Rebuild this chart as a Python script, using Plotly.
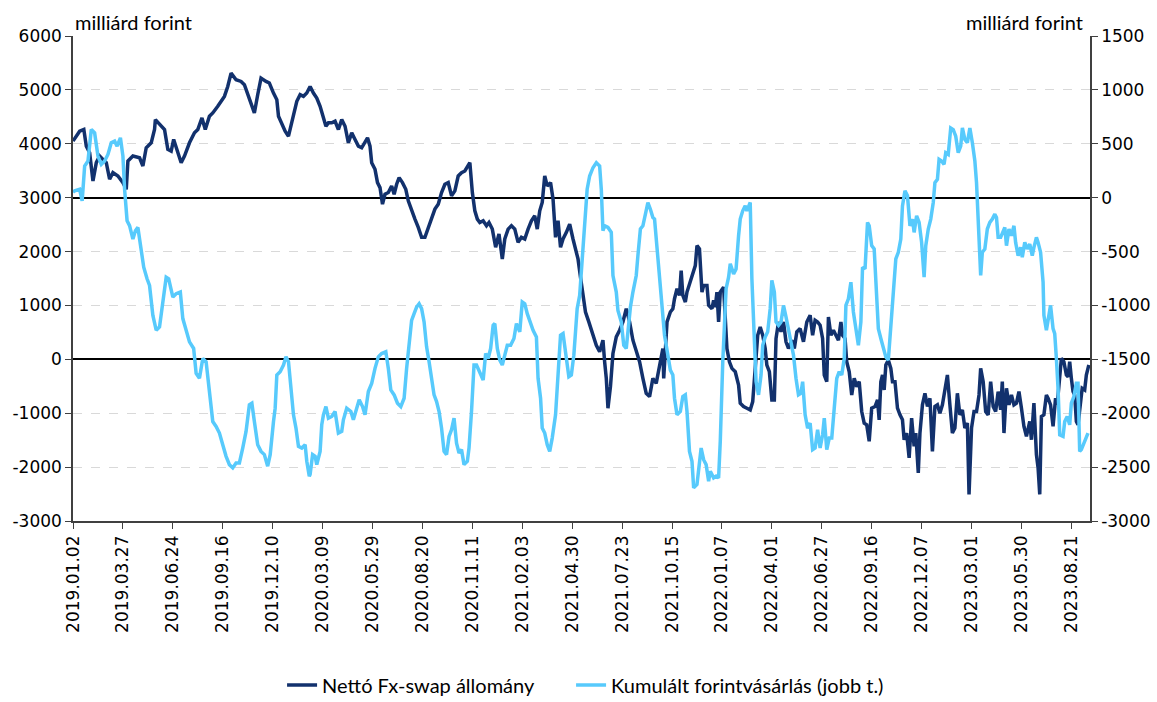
import plotly.graph_objects as go

# x tick labels (every 60th trading day)
tick_labels = ["2019.01.02", "2019.03.27", "2019.06.24", "2019.09.16", "2019.12.10",
               "2020.03.09", "2020.05.29", "2020.08.20", "2020.11.11", "2021.02.03",
               "2021.04.30", "2021.07.23", "2021.10.15", "2022.01.07", "2022.04.01",
               "2022.06.27", "2022.09.16", "2022.12.07", "2023.03.01", "2023.05.30",
               "2023.08.21"]
tick_days = [60 * i for i in range(len(tick_labels))]
left_ticks = [-3000, -2000, -1000, 0, 1000, 2000, 3000, 4000, 5000, 6000]
right_ticks = [-3000, -2500, -2000, -1500, -1000, -500, 0, 500, 1000, 1500]

# Nettó Fx-swap állomány (left axis, milliárd forint); x = trading-day number
fx_day = [0, 3, 8, 13, 16, 20, 24, 28, 32, 36, 40, 44, 48, 54, 60, 64, 66, 72, 80, 84,
          88, 94, 98, 99, 106, 110, 114, 118, 121, 126, 130, 134, 140, 146, 150, 155, 159,
          164, 168, 174, 182, 186, 190, 196, 202, 206, 212, 218, 222, 226, 232, 236,
          241, 245, 247, 251, 255, 259, 263, 265, 269, 273, 277, 281, 285, 289, 293, 297,
          301, 304, 307, 311, 315, 319, 323, 327, 331, 335, 339, 343, 347, 351, 354, 357,
          359, 363, 366, 369, 372, 375, 379, 383, 386, 389, 392, 396, 400, 403, 407, 411,
          415, 419, 423, 427, 431, 435, 439, 443, 447, 451, 455, 459, 463, 467, 471, 475,
          477, 480, 483, 486, 489, 493, 497, 500, 504, 508, 512, 516, 519, 523, 527, 531,
          535, 539, 543, 547, 551, 555, 558, 561, 564, 567, 570, 574, 577, 580, 583, 586,
          589, 593, 597, 601, 604, 607, 610, 613, 616, 620, 625, 629, 633, 637, 639, 641,
          643, 646, 649, 653, 657, 661, 665, 669, 673, 677, 681, 685, 689, 693, 697, 701,
          705, 709, 710, 714, 718,
          721, 723, 726, 729, 731, 733, 736, 738, 742, 745, 748, 750, 753, 756, 758, 762,
          764, 768, 770, 772, 774, 776, 778, 782, 784, 786, 789, 792, 796, 800, 802, 806,
          810, 814, 817, 820, 823, 826, 829, 832, 834, 837, 840, 843, 845, 848, 851, 854,
          857, 860, 864, 867, 870, 874, 878, 882, 886, 889, 892, 895, 898, 901, 903, 906,
          908, 911, 914, 917, 920, 923, 925, 928, 930, 933, 936, 939, 942, 945, 948, 951,
          954, 957,
          960, 964, 967, 969, 971, 973, 975, 977, 980, 983, 985, 988, 991, 994, 997, 999,
          1002, 1005, 1008, 1011, 1013, 1016, 1018, 1021, 1024, 1027, 1030, 1033, 1036,
          1039, 1042, 1045, 1048, 1051, 1054, 1057, 1060, 1063, 1066, 1069, 1072, 1075,
          1077, 1080, 1083, 1086, 1089, 1091, 1094, 1097, 1100, 1103, 1106, 1109, 1112,
          1115, 1117, 1119, 1122, 1125, 1128, 1131, 1134, 1137, 1140, 1143, 1146, 1150,
          1152, 1155, 1158, 1160, 1162, 1164, 1167, 1170, 1172, 1175, 1178, 1181, 1183,
          1186, 1188, 1191, 1194, 1196, 1198, 1200, 1202, 1204, 1206, 1208, 1210, 1213,
          1216, 1218, 1221]
fx_val = [4050, 4110, 4234, 4264, 3956, 3833, 3310, 3650, 3772, 3710, 3649, 3342, 3465,
          3402, 3279, 3155, 3679, 3772, 3740, 3587, 3926, 4018, 4264, 4449, 4326, 4264,
          3895, 3864, 4080, 3833, 3649, 3772, 4018, 4203, 4264, 4480, 4264, 4510, 4572,
          4695, 4880, 5064, 5311, 5188, 5157, 5095, 4818, 4572, 4910, 5218, 5157, 5127,
          4941, 4818, 4510, 4357, 4234, 4141, 4388, 4480, 4788, 4911, 4880, 4941, 5064,
          4941, 4849, 4695, 4510, 4326, 4388, 4388, 4418, 4264, 4449, 4326, 4018, 4203,
          4080, 3956, 3926, 4018, 4110, 3956, 3649, 3526, 3279, 3187, 2879, 3064, 3095,
          3218, 3064, 3249, 3372, 3279, 3156, 2941, 2756, 2602, 2448, 2264, 2264, 2448,
          2633, 2787, 2879, 3095, 3249, 3279, 3033, 3126, 3402, 3464, 3495, 3618,
          3649, 3095, 2756, 2602, 2540, 2571, 2479, 2540, 2417, 2079, 2325, 1863, 2233,
          2417, 2479, 2417, 2171, 2264, 2233, 2417, 2571, 2663, 2417, 2756, 2910, 3402,
          3218, 3279, 2971, 2264, 2571, 2079, 2233, 2356, 2510, 2233, 2048, 1863, 1525,
          1186, 878, 694, 478, 262, 140, 355, -45, -353, -907, -507, 108, 417, 540, 694,
          940, 694, 355, 170, -45, -353, -630, -691, -353, -445, -106, 201, -353, 694, 878,
          940, 1125, 1309, 1186, 1648, 1186, 1063, 1248, 1433, 1617, 1740, 2110, 2048,
          1248, 1371, 1371, 1002, 940, 1094, 971, 1248, 694, 1248, 1340, 632, 201, -45,
          -168, -230, -476, -815, -876, -907, -938, -784, -168, 447, 601, 447, 201, -106,
          -230, -753, -753, 386, 694, 509, 694, 325, 201, 355, 201, 509, 571, 325, 694,
          817, 447, 725, 694, 632, 386, -291, -414, 786, 447, 540, 447, 355, 694, 447,
          386, -45, -230, -661, -353, -507, -414, -968, -1184, -1215, -1522,
          -907, -876, -753, -1122, -414, -291, -568, -106, -14, -168, -414, -414, -907,
          -1030, -1122, -1492, -1368, -1830, -1091, -1615, -1368, -2107, -1368, -845,
          -630, -876, -722, -1707, -876, -845, -999, -845, -599, -291, -845, -1368, -1276,
          -630, -1030, -938, -1276, -1184, -2507, -1276, -968, -968, -661, -168, -414,
          -968, -1030, -414, -876, -968, -599, -938, -414, -1368, -537, -845, -661, -845,
          -814, -599, -907, -1245, -1430, -1153, -1492, -814, -1768, -2015, -2507, -1061,
          -1030, -661, -722, -845, -1245, -722, -845, -414, 17, -45, -291, -322, -45,
          -353, -599, -661, -1153, -1215, -907, -537, -568, -291, -106]

# Kumulált forintvásárlás (right axis, milliárd forint)
buy_day = [0, 2, 8, 11, 14, 18, 22, 26, 30, 34, 38, 42, 46, 50, 53, 57, 60, 62, 65, 68,
           72, 75, 78, 82, 85, 89, 92, 96, 100, 104, 108, 112, 115, 120, 124, 129, 132,
           136, 140, 145, 148, 152, 156, 160, 164, 168, 172, 176, 180, 184, 188, 192, 196,
           200, 204, 208, 212, 215, 218, 222, 226, 230, 234,
           237, 241, 243, 245, 249, 253, 256, 259, 261, 265, 268, 271, 275, 279, 281, 284,
           285, 288, 291, 293, 297, 299, 301, 304, 307, 311, 315, 319, 323, 325, 329, 334,
           337, 340, 344, 348, 351, 355, 359, 363, 367, 371, 376, 379, 382, 386, 390, 394,
           398, 401, 404, 407, 410, 413, 416, 419, 422, 425, 428, 431, 434, 437, 440, 443,
           446, 449, 452, 455, 458, 461, 464, 467, 470, 474, 476,
           479, 482, 485, 489, 493, 496, 499, 502, 505, 507, 510, 513, 516, 519, 522, 526,
           530, 533, 537, 540, 543, 546, 549, 553, 557, 559, 562, 564, 567, 570, 573, 576,
           580, 583, 586, 589, 593, 596, 599, 602, 604, 606, 609, 612, 615, 618, 621, 625,
           629, 633, 635, 637, 639, 643, 647, 649, 653, 655, 659, 662, 665, 667, 670, 673,
           677, 679, 682, 685, 689, 691, 694, 697, 699, 702, 705, 709, 711, 715,
           718, 721, 723, 726, 730, 733, 736, 738, 741, 744, 746, 750, 753, 755, 758, 761,
           764, 766, 770, 773, 776, 778, 781, 783, 785, 788, 790, 794, 797, 800, 802, 805,
           808, 810, 814, 816, 819, 821, 824, 827, 829, 832, 835, 838, 840, 843, 845, 848,
           851, 854, 857, 860, 863, 866, 869, 872, 875, 877, 880, 883, 886, 889, 892, 895,
           898, 901, 903, 906, 909, 912, 915, 918, 921, 924, 927, 929, 932, 935, 938, 941,
           944, 947, 949, 952, 955, 957,
           960, 963, 965, 968, 971, 974, 977, 980, 983, 986, 989, 992, 995, 997, 1000, 1003,
           1006, 1009, 1011, 1014, 1017, 1020, 1023, 1025, 1028, 1031, 1034, 1036, 1039,
           1041, 1044, 1047, 1049, 1052, 1055, 1058, 1061, 1064, 1067, 1069, 1072, 1075,
           1078, 1081, 1084, 1086, 1088, 1091, 1093, 1096, 1099, 1102, 1105, 1108, 1110,
           1112, 1115, 1117, 1120, 1122, 1125, 1128, 1131, 1133, 1136, 1139, 1141, 1144,
           1147, 1150, 1153, 1155, 1158, 1160, 1163, 1166, 1167, 1170, 1172, 1175, 1178,
           1180, 1182, 1184, 1186, 1190, 1192, 1195, 1198, 1200, 1203, 1206, 1208, 1210,
           1212, 1215, 1218, 1220]
buy_val = [50, 63, 78, -30, 293, 340, 632, 601, 386, 309, 340, 401, 509, 524, 478, 555,
           386, 78, -214, -260, -384, -307, -276, -476, -645, -753, -815, -1092, -1230,
           -1199, -968, -738, -753, -922, -891, -876, -1122, -1230, -1338, -1399, -1630,
           -1676, -1492, -1522, -1799, -2077, -2123, -2184, -2292, -2400, -2477, -2507,
           -2461, -2461, -2323, -2169, -1922, -1907, -2077, -2292, -2354, -2384, -2492,
           -2384, -2077, -1953, -1646, -1615, -1553, -1477, -1522, -1692, -2015, -2138,
           -2307, -2323, -2292, -2446, -2584, -2569, -2384, -2400, -2477, -2354, -2107,
           -2015, -1938, -2046, -2030, -1984, -2184, -2169, -2061, -1953, -1984, -2061,
           -1984, -1876, -1938, -2015, -1799, -1723, -1584, -1477, -1446, -1430, -1584,
           -1784, -1830, -1907, -1938, -1861, -1584, -1323, -1138, -1076, -1015, -984,
           -1030, -1153, -1384, -1522, -1707, -1830, -1892, -1984, -2138, -2354, -2384,
           -2215, -2153, -2046, -2277, -2369, -2338, -2477, -2446, -2323,
           -1984, -1553, -1553, -1615, -1692, -1446, -1492, -1399, -1184, -1168, -1399,
           -1507, -1553, -1461, -1369, -1369, -1307, -1168, -1245, -968, -984, -1076,
           -1153, -1230, -1292, -1676, -1861, -2138, -2184, -2292, -2354, -2231, -2015,
           -1584, -1276, -1261, -1477, -1661, -1646, -1461, -1245, -1030, -907, -538,
           -199, 78, 201, 278, 324, 293, 78, -307, -261, -276, -322, -722, -876, -1046,
           -1153, -1369, -1399, -1230, -1015, -876, -722, -538, -291, -261, -138, -45,
           -107, -184, -199, -476, -784, -1061, -1276, -1461,
           -1600, -1646, -1861, -2015, -1984, -1846, -1830, -1984, -2354, -2446, -2692,
           -2661, -2446, -2323, -2431, -2477, -2630, -2538, -2600, -2584, -2600, -2261,
           -1522, -1215, -845, -738, -614, -707, -661, -353, -199, -122, -76, -122, -45,
           -753, -1461, -1707, -1830, -1646, -1369, -1292, -1245, -1030, -768, -876,
           -1153, -1184, -1153, -1000, -1107, -1215, -1323, -1461, -1676, -1830, -1815,
           -1707, -2015, -2138, -2092, -2338, -2323, -2153, -2323, -2200, -2046, -2338,
           -2231, -2231, -1953, -1676, -1615, -1646, -1492, -1000, -938, -784, -1061,
           -1215, -1369, -1153, -645, -661, -230, -261,
           -445, -476, -784, -1215, -1307, -1384, -1477, -1507, -1153, -815, -568, -507,
           -384, -76, 63, 17, -261, -199, -322, -168, -230, -415, -738, -445, -291, -199,
           -45, 140, 170, 355, 340, 309, 417, 401, 647, 632, 570, 417, 478, 647, 540, 509,
           647, 509, 340, 140, -291, -722, -507, -476, -291, -230, -199, -153, -184, -368,
           -368, -322, -276, -445, -291, -353, -261, -415, -538, -461, -553, -415, -476,
           -430, -538, -461, -368, -415, -507, -784, -1092, -1230, -1122, -999, -1215,
           -1261, -1492, -1769, -2200, -2215, -2077, -2030, -2107, -1907, -1846, -1723,
           -1723, -2354, -2338, -2277, -2215, -2184]

DARK = "#12316D"
LIGHT = "#57CAFC"
AXIS = "#404040"
TICK_FONT = dict(family="DejaVu Sans", size=17, color="#000000")
TEXT_FONT = dict(family="Lato", size=20, color="#000000")

fig = go.Figure()
fig.add_trace(go.Scatter(x=fx_day, y=fx_val, mode="lines", name="Nettó Fx-swap állomány",
                         line=dict(color=DARK, width=3.5), yaxis="y", legendwidth=244))
fig.add_trace(go.Scatter(x=buy_day, y=buy_val, mode="lines",
                         name="Kumulált forintvásárlás (jobb t.)",
                         line=dict(color=LIGHT, width=3.5), yaxis="y2"))

fig.update_layout(
    width=1157, height=702,
    margin=dict(l=73, r=67, t=36, b=181, autoexpand=False),
    paper_bgcolor="white", plot_bgcolor="white",
    showlegend=True,
    legend=dict(orientation="h", x=0.504, xanchor="center", y=-0.338, yanchor="middle",
                font=TEXT_FONT, traceorder="normal", itemwidth=30,
                bgcolor="rgba(0,0,0,0)"),
    xaxis=dict(range=[0, 1222.4], tickmode="array", tickvals=tick_days, ticktext=tick_labels,
               tickangle=-90, tickfont=TICK_FONT, ticks="outside", ticklen=6,
               tickcolor=AXIS, showline=True, linecolor=AXIS, linewidth=1.5,
               showgrid=False, zeroline=False, automargin=False),
    yaxis=dict(range=[-3000, 6000], tickmode="array", tickvals=left_ticks,
               ticktext=[str(v) for v in left_ticks], tickfont=TICK_FONT, ticks="outside",
               ticklen=6, tickcolor=AXIS, showline=True, linecolor=AXIS,
               linewidth=1.5, showgrid=True, gridcolor="#d9d9d9", griddash="dash",
               gridwidth=1, zeroline=True, zerolinecolor="#000000", zerolinewidth=1.5,
               automargin=False),
    yaxis2=dict(range=[-3000, 1500], tickmode="array", tickvals=right_ticks,
                ticktext=[str(v) for v in right_ticks], overlaying="y", side="right",
                tickfont=TICK_FONT, ticks="outside", ticklen=6, tickcolor=AXIS,
                showline=True, linecolor=AXIS, linewidth=1.5, showgrid=False,
                zeroline=True, zerolinecolor="#000000", zerolinewidth=1.5,
                automargin=False),
    annotations=[
        dict(text="milliárd forint", xref="paper", yref="paper", x=0.0, y=1.0,
             xanchor="left", yanchor="bottom", yshift=0, showarrow=False, font=TEXT_FONT),
        dict(text="milliárd forint", xref="paper", yref="paper", x=0.995, y=1.0,
             xanchor="right", yanchor="bottom", yshift=0, showarrow=False, font=TEXT_FONT),
    ],
)

fig.write_html("out.html", config={"displayModeBar": False},
               post_script="document.body.style.margin='0px';")
